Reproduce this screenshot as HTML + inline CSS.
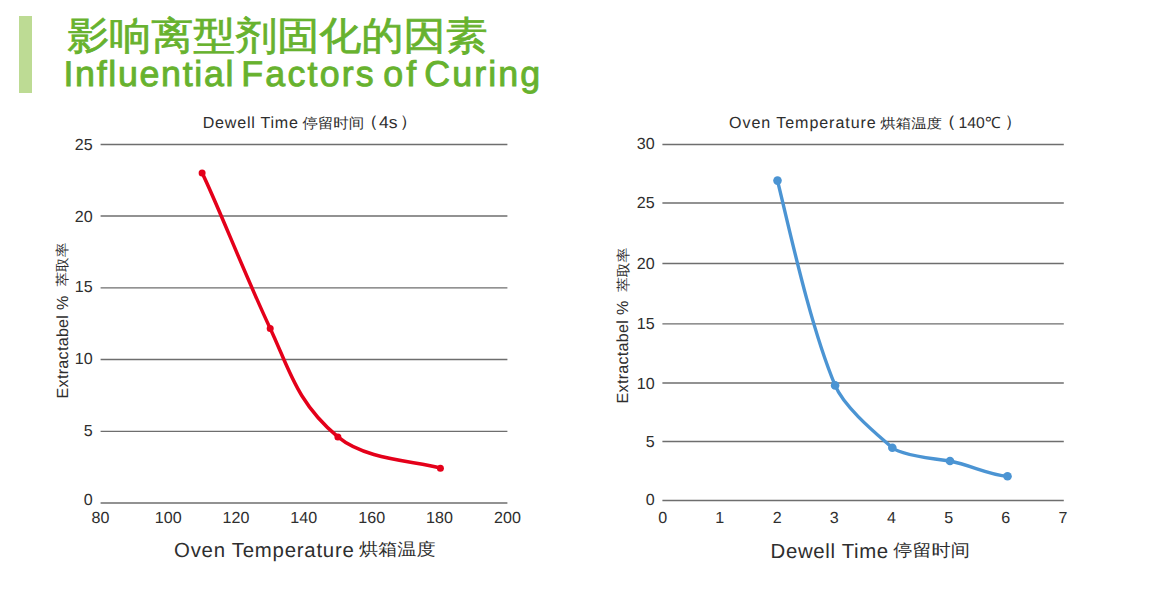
<!DOCTYPE html>
<html><head><meta charset="utf-8">
<style>
html,body{margin:0;padding:0;background:#fff;width:1174px;height:601px;overflow:hidden;}
svg{position:absolute;left:0;top:0;font-family:"Liberation Sans",sans-serif;text-rendering:geometricPrecision;}
</style></head><body>
<svg width="1174" height="601" viewBox="0 0 1174 601">
<rect x="19" y="16" width="13" height="77" fill="#bddb94"/>
<line x1="100.6" x2="507.4" y1="144.5" y2="144.5" stroke="#6e6e6e" stroke-width="1.3"/>
<line x1="100.6" x2="507.4" y1="216.0" y2="216.0" stroke="#6e6e6e" stroke-width="1.3"/>
<line x1="100.6" x2="507.4" y1="287.8" y2="287.8" stroke="#6e6e6e" stroke-width="1.3"/>
<line x1="100.6" x2="507.4" y1="359.5" y2="359.5" stroke="#6e6e6e" stroke-width="1.3"/>
<line x1="100.6" x2="507.4" y1="431.4" y2="431.4" stroke="#6e6e6e" stroke-width="1.3"/>
<line x1="100.6" x2="507.4" y1="503.0" y2="503.0" stroke="#6e6e6e" stroke-width="1.3"/>
<line x1="662.4" x2="1063.8" y1="144.5" y2="144.5" stroke="#6e6e6e" stroke-width="1.3"/>
<line x1="662.4" x2="1063.8" y1="203.0" y2="203.0" stroke="#6e6e6e" stroke-width="1.3"/>
<line x1="662.4" x2="1063.8" y1="263.5" y2="263.5" stroke="#6e6e6e" stroke-width="1.3"/>
<line x1="662.4" x2="1063.8" y1="323.9" y2="323.9" stroke="#6e6e6e" stroke-width="1.3"/>
<line x1="662.4" x2="1063.8" y1="383.0" y2="383.0" stroke="#6e6e6e" stroke-width="1.3"/>
<line x1="662.4" x2="1063.8" y1="441.5" y2="441.5" stroke="#6e6e6e" stroke-width="1.3"/>
<line x1="662.4" x2="1063.8" y1="500.5" y2="500.5" stroke="#6e6e6e" stroke-width="1.3"/>
<path d="M202.10,172.90 C216.22,201.46 245.96,277.17 270.20,328.40 C288.96,368.04 296.35,402.30 337.90,436.90 C366.21,460.47 416.38,460.83 440.40,468.15" fill="none" stroke="#e4001a" stroke-width="3.5" stroke-linecap="round"/>
<circle cx="202.1" cy="172.9" r="3.5" fill="#e4001a"/>
<circle cx="270.2" cy="328.4" r="3.5" fill="#e4001a"/>
<circle cx="337.9" cy="436.9" r="3.5" fill="#e4001a"/>
<circle cx="440.4" cy="468.15" r="3.5" fill="#e4001a"/>
<path d="M777.50,180.60 C790.06,231.67 810.12,325.72 835.10,385.40 C844.68,408.27 879.26,436.17 892.35,447.80 C901.72,456.13 947.10,460.41 950.00,461.00 C970.96,465.27 990.64,475.38 1007.50,476.20" fill="none" stroke="#4b94d3" stroke-width="3.4" stroke-linecap="round"/>
<circle cx="777.5" cy="180.6" r="4.3" fill="#4b94d3"/>
<circle cx="835.1" cy="385.4" r="4.3" fill="#4b94d3"/>
<circle cx="892.35" cy="447.8" r="4.3" fill="#4b94d3"/>
<circle cx="950.0" cy="461.0" r="4.3" fill="#4b94d3"/>
<circle cx="1007.5" cy="476.2" r="4.3" fill="#4b94d3"/>
<text transform="translate(67.131,49.376) scale(1.00090,0.91867)" font-size="42" fill="#67b22e" stroke="#67b22e" stroke-width="0.8">影响离型剂固化的因素</text>
<text transform="translate(63.479,86.400) scale(0.92500,0.92500)" font-size="38.7" fill="#67b22e" stroke="#67b22e" stroke-width="1.0" letter-spacing="1.811">Influential</text>
<text transform="translate(241.330,86.400) scale(0.92500,0.92500)" font-size="38.7" fill="#67b22e" stroke="#67b22e" stroke-width="1.0" letter-spacing="2.355">Factors</text>
<text transform="translate(383.280,86.400) scale(0.92500,0.92500)" font-size="38.7" fill="#67b22e" stroke="#67b22e" stroke-width="1.0" letter-spacing="3.200">of</text>
<text transform="translate(424.180,86.400) scale(0.92500,0.92500)" font-size="38.7" fill="#67b22e" stroke="#67b22e" stroke-width="1.0" letter-spacing="2.288">Curing</text>
<text transform="translate(202.737,128.300) scale(0.94500,0.94500)" font-size="17" fill="#2e2e2e" letter-spacing="0.816">Dewell Time</text>
<text transform="translate(302.443,127.814) scale(1.01789,0.94627)" font-size="15.2" fill="#2e2e2e">停留时间</text>
<text transform="translate(359.716,126.696) scale(1.24854,1.10790)" font-size="15.2" fill="#2e2e2e">（</text>
<text transform="translate(378.923,128.215) scale(1.03340,1.00105)" font-size="17" fill="#2e2e2e">4s</text>
<text transform="translate(399.420,126.873) scale(1.21824,1.10593)" font-size="15.2" fill="#2e2e2e">）</text>
<text transform="translate(729.044,128.300) scale(0.94500,0.94500)" font-size="17" fill="#2e2e2e" letter-spacing="0.983">Oven Temperature</text>
<text transform="translate(880.313,127.546) scale(1.01477,0.89467)" font-size="15.2" fill="#2e2e2e">烘箱温度</text>
<text transform="translate(936.784,126.738) scale(1.31800,1.10822)" font-size="15.2" fill="#2e2e2e">（</text>
<text transform="translate(958.605,128.044) scale(0.92632,0.91324)" font-size="17" fill="#2e2e2e">140℃</text>
<text transform="translate(1004.556,126.942) scale(1.16866,1.10637)" font-size="15.2" fill="#2e2e2e">）</text>
<text transform="translate(174.066,556.500) scale(0.99000,0.99000)" font-size="20.6" fill="#2e2e2e" letter-spacing="0.757">Oven Temperature</text>
<text transform="translate(359.038,555.076) scale(1.03479,0.91989)" font-size="18.5" fill="#2e2e2e">烘箱温度</text>
<text transform="translate(770.624,557.500) scale(0.99000,0.99000)" font-size="20.6" fill="#2e2e2e" letter-spacing="0.660">Dewell Time</text>
<text transform="translate(893.214,556.407) scale(1.03582,0.92789)" font-size="18.5" fill="#2e2e2e">停留时间</text>
<text transform="translate(67.700,398.419) rotate(-90) scale(1.07400,1.07400)" font-size="15" fill="#2e2e2e" letter-spacing="0.257">Extractabel %</text>
<text transform="translate(66.985,286.564) rotate(-90) scale(0.98913,0.93784)" font-size="14.8" fill="#2e2e2e">萃取率</text>
<text transform="translate(628.400,403.434) rotate(-90) scale(1.07400,1.07400)" font-size="15" fill="#2e2e2e" letter-spacing="0.256">Extractabel %</text>
<text transform="translate(627.785,292.095) rotate(-90) scale(1.00089,0.93974)" font-size="14.8" fill="#2e2e2e">萃取率</text>
<text transform="translate(74.833,150.350) scale(1.03000,1.03000)" font-size="15.6" fill="#2e2e2e">25</text>
<text transform="translate(74.795,221.500) scale(1.03000,1.03000)" font-size="15.6" fill="#2e2e2e">20</text>
<text transform="translate(74.833,292.450) scale(1.03000,1.03000)" font-size="15.6" fill="#2e2e2e">15</text>
<text transform="translate(74.737,364.450) scale(1.03000,1.03000)" font-size="15.6" fill="#2e2e2e">10</text>
<text transform="translate(83.763,436.350) scale(1.03000,1.03000)" font-size="15.6" fill="#2e2e2e">5</text>
<text transform="translate(83.706,505.300) scale(1.03000,1.03000)" font-size="15.6" fill="#2e2e2e">0</text>
<text transform="translate(636.791,148.650) scale(1.03000,1.03000)" font-size="15.6" fill="#2e2e2e">30</text>
<text transform="translate(636.828,208.250) scale(1.03000,1.03000)" font-size="15.6" fill="#2e2e2e">25</text>
<text transform="translate(636.786,269.250) scale(1.03000,1.03000)" font-size="15.6" fill="#2e2e2e">20</text>
<text transform="translate(636.828,329.250) scale(1.03000,1.03000)" font-size="15.6" fill="#2e2e2e">15</text>
<text transform="translate(636.787,388.650) scale(1.03000,1.03000)" font-size="15.6" fill="#2e2e2e">10</text>
<text transform="translate(645.767,447.250) scale(1.03000,1.03000)" font-size="15.6" fill="#2e2e2e">5</text>
<text transform="translate(645.694,505.300) scale(1.03000,1.03000)" font-size="15.6" fill="#2e2e2e">0</text>
<text transform="translate(91.517,523.450) scale(1.03000,1.03000)" font-size="15.6" fill="#2e2e2e">80</text>
<text transform="translate(154.798,523.450) scale(1.03000,1.03000)" font-size="15.6" fill="#2e2e2e">100</text>
<text transform="translate(222.556,523.450) scale(1.03000,1.03000)" font-size="15.6" fill="#2e2e2e">120</text>
<text transform="translate(290.294,523.450) scale(1.03000,1.03000)" font-size="15.6" fill="#2e2e2e">140</text>
<text transform="translate(358.298,523.450) scale(1.03000,1.03000)" font-size="15.6" fill="#2e2e2e">160</text>
<text transform="translate(426.053,523.450) scale(1.03000,1.03000)" font-size="15.6" fill="#2e2e2e">180</text>
<text transform="translate(494.026,523.450) scale(1.03000,1.03000)" font-size="15.6" fill="#2e2e2e">200</text>
<text transform="translate(658.308,523.450) scale(1.03000,1.03000)" font-size="15.6" fill="#2e2e2e">0</text>
<text transform="translate(715.337,523.450) scale(1.03000,1.03000)" font-size="15.6" fill="#2e2e2e">1</text>
<text transform="translate(772.765,523.450) scale(1.03000,1.03000)" font-size="15.6" fill="#2e2e2e">2</text>
<text transform="translate(829.821,523.450) scale(1.03000,1.03000)" font-size="15.6" fill="#2e2e2e">3</text>
<text transform="translate(887.104,523.450) scale(1.03000,1.03000)" font-size="15.6" fill="#2e2e2e">4</text>
<text transform="translate(944.270,523.450) scale(1.03000,1.03000)" font-size="15.6" fill="#2e2e2e">5</text>
<text transform="translate(1001.215,523.450) scale(1.03000,1.03000)" font-size="15.6" fill="#2e2e2e">6</text>
<text transform="translate(1058.503,523.450) scale(1.03000,1.03000)" font-size="15.6" fill="#2e2e2e">7</text>
</svg>
</body></html>
